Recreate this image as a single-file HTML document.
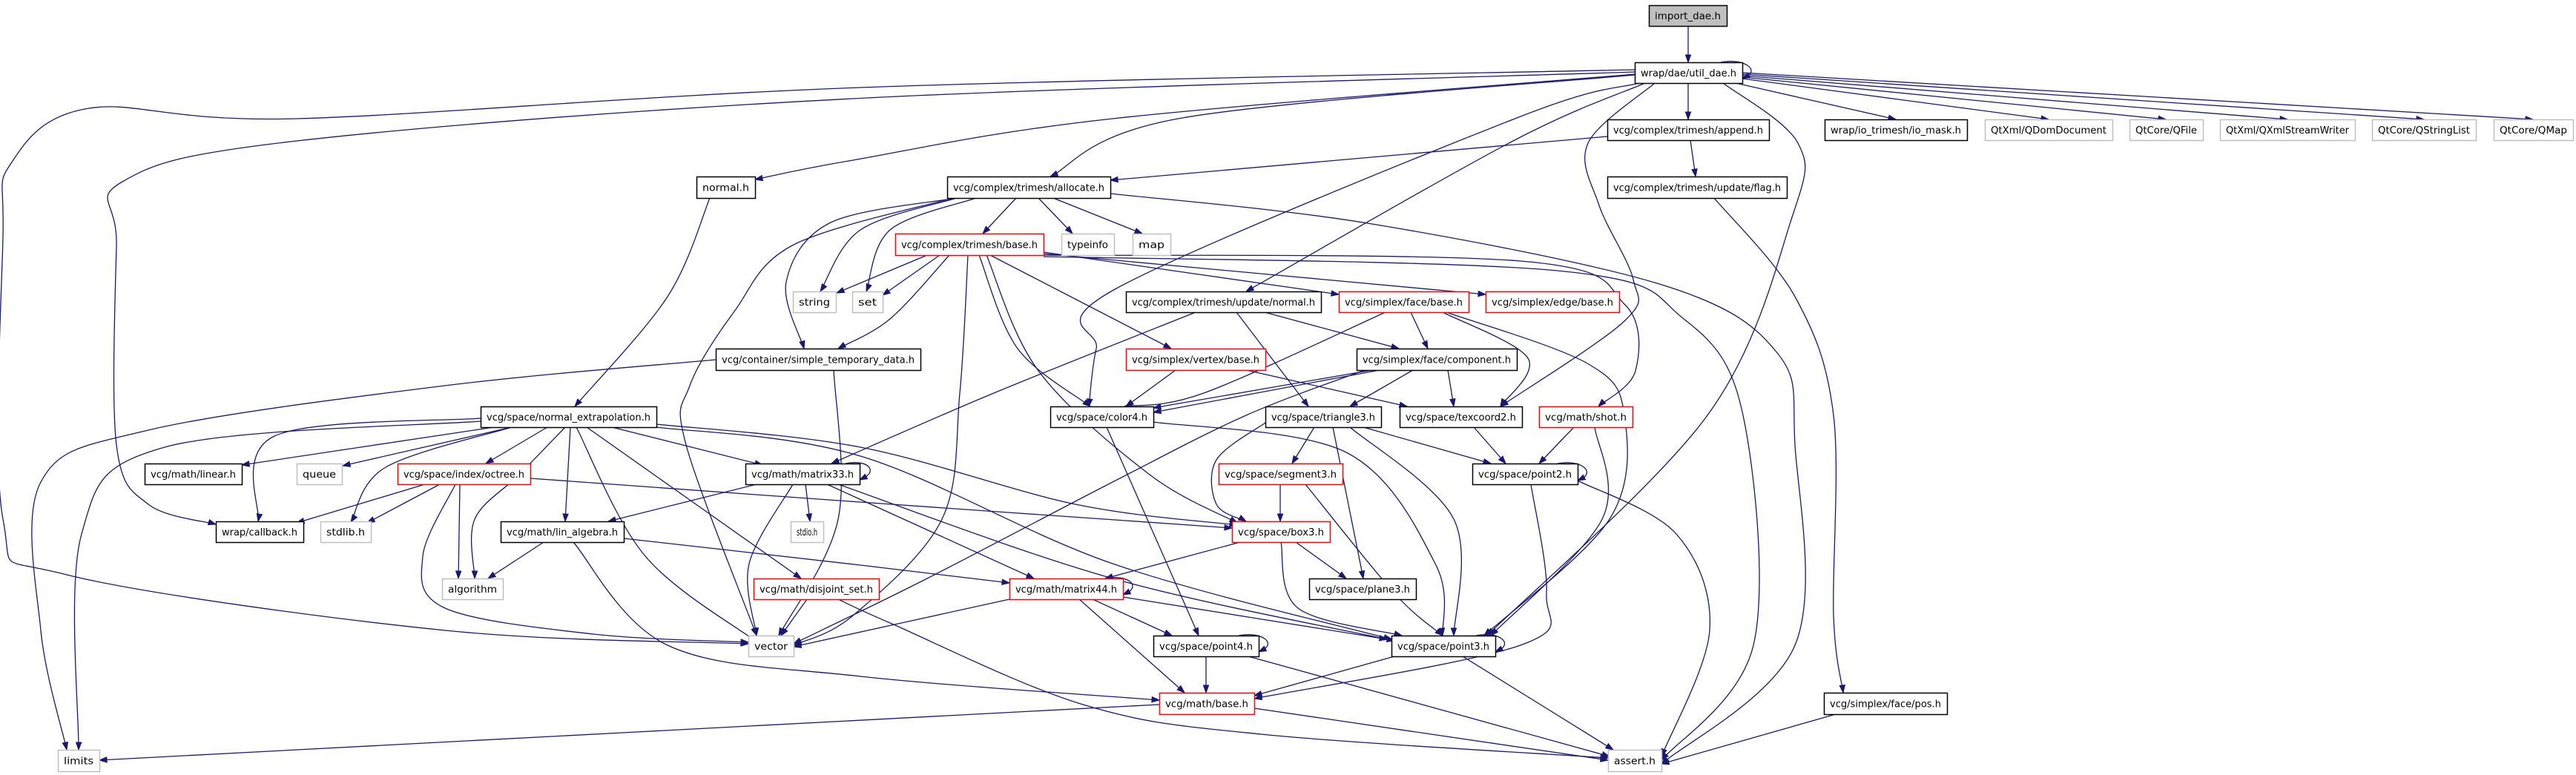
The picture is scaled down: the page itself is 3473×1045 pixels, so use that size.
<!DOCTYPE html>
<html><head><meta charset="utf-8"><style>
html,body{margin:0;padding:0;background:#fff;}
svg{display:block;}
text{font-family:"DejaVu Sans","Liberation Sans",sans-serif;font-size:13px;fill:#000;}
</style></head><body>
<svg id="g" width="3473" height="1045" viewBox="0 0 3473 1045" xmlns="http://www.w3.org/2000/svg">
<g id="edges" fill="none" stroke="#191970" stroke-width="1.3"></g>
<g id="arrows" fill="#191970" stroke="#191970" stroke-width="1"></g>
<g id="nodes"></g>
</svg>
<script>
var N={
imp:[2223,7,2328,35,"import_dae.h","f"],
util:[2204,84,2349,112,"wrap/dae/util_dae.h","b"],
append:[2167,161,2385,189,"vcg/complex/trimesh/append.h","b"],
flag:[2167,238,2409,267,"vcg/complex/trimesh/update/flag.h","b"],
iomask:[2460,161,2652,189,"wrap/io_trimesh/io_mask.h","b"],
qdom:[2676,161,2848,189,"QtXml/QDomDocument","g"],
qfile:[2871,161,2970,189,"QtCore/QFile","g"],
qxml:[2993,161,3175,189,"QtXml/QXmlStreamWriter","g"],
qsl:[3198,161,3338,189,"QtCore/QStringList","g"],
qmap:[3362,161,3469,189,"QtCore/QMap","g"],
normal:[939,238,1018,267,"normal.h","b"],
alloc:[1277,238,1497,267,"vcg/complex/trimesh/allocate.h","b"],
tbase:[1207,315,1407,344,"vcg/complex/trimesh/base.h","r"],
typeinfo:[1431,315,1502,344,"typeinfo","g"],
map:[1527,315,1578,344,"map","g"],
string:[1069,393,1127,421,"string","g"],
set:[1149,393,1190,421,"set","g"],
unormal:[1518,393,1781,421,"vcg/complex/trimesh/update/normal.h","b"],
fbase:[1805,393,1980,421,"vcg/simplex/face/base.h","r"],
ebase:[2003,393,2183,421,"vcg/simplex/edge/base.h","r"],
simple:[965,470,1241,499,"vcg/container/simple_temporary_data.h","b"],
vbase:[1518,470,1706,499,"vcg/simplex/vertex/base.h","r"],
fcomp:[1829,470,2045,499,"vcg/simplex/face/component.h","b"],
nextra:[648,548,885,576,"vcg/space/normal_extrapolation.h","b"],
color4:[1416,548,1555,576,"vcg/space/color4.h","b"],
tri3:[1706,548,1862,576,"vcg/space/triangle3.h","b"],
tex2:[1887,548,2052,576,"vcg/space/texcoord2.h","b"],
shot:[2075,548,2201,576,"vcg/math/shot.h","r"],
linear:[195,625,326,653,"vcg/math/linear.h","b"],
queue:[400,625,461,653,"queue","g"],
octree:[536,625,715,653,"vcg/space/index/octree.h","r"],
m33:[1005,625,1159,653,"vcg/math/matrix33.h","b"],
seg3:[1643,625,1810,653,"vcg/space/segment3.h","r"],
p2:[1985,625,2127,653,"vcg/space/point2.h","b"],
callback:[291,703,409,731,"wrap/callback.h","b"],
stdlib:[432,703,500,731,"stdlib.h","g"],
linalg:[675,703,841,731,"vcg/math/lin_algebra.h","b"],
stdio:[1066,703,1110,731,"stdio.h","g"],
box3:[1661,703,1793,731,"vcg/space/box3.h","r"],
algorithm:[596,780,678,808,"algorithm","g"],
disj:[1016,780,1185,808,"vcg/math/disjoint_set.h","r"],
m44:[1361,780,1514,808,"vcg/math/matrix44.h","r"],
plane3:[1765,780,1909,808,"vcg/space/plane3.h","b"],
vector:[1009,857,1070,885,"vector","g"],
p4:[1555,857,1697,885,"vcg/space/point4.h","b"],
p3:[1876,857,2016,885,"vcg/space/point3.h","b"],
mbase:[1563,934,1691,963,"vcg/math/base.h","r"],
pos:[2459,934,2625,963,"vcg/simplex/face/pos.h","b"],
limits:[78,1011,134,1040,"limits","g"],
assert:[2168,1011,2240,1040,"assert.h","g"]
};
var E=[
[[2276,35],[2276,84]],
[[2276,112],[2276,161]],
[[2340,112],[2556,161]],
[[2349,106],[2762,161]],
[[2349,104],[2920,161]],
[[2349,102],[3084,161]],
[[2349,100],[3268,161]],
[[2349,98],[3415,161]],
[[2204,101],[1594,159],[1416,238]],
[[2204,100],[1500,160],[1150,216],[1018,242]],
[[2204,97],[1150,133],[400,190],[165,245],[157,330],[157,600],[200,680],[291,707]],
[[2204,94],[1160,118],[400,160],[120,146],[15,220],[4,320],[4,700],[90,775],[600,850],[1009,868]],
[[2210,112],[2045,159],[1505,389],[1478,470],[1468,548]],
[[2218,112],[2040,190],[1680,393]],
[[2231,112],[2141,193],[2156,277],[2202,377],[2190,433],[2023,548]],
[[2323,112],[2424,193],[2416,293],[2302,560],[2005,857]],
[[2167,184],[1497,243]],
[[2279,189],[2286,238]],
[[2311,267],[2420,400],[2472,560],[2472,830],[2485,934]],
[[2475,963],[2240,1030]],
[[957,267],[900,400],[775,548]],
[[1370,267],[1325,315]],
[[1400,267],[1446,315]],
[[1420,267],[1540,315]],
[[1290,267],[1160,310],[1106,393]],
[[1316,267],[1200,310],[1168,393]],
[[1290,267],[1120,300],[1060,380],[1084,470]],
[[1285,267],[1070,330],[990,420],[930,520],[925,600],[1020,857]],
[[1497,261],[1850,302],[2247,386],[2397,477],[2420,600],[2420,870],[2240,1030]],
[[1250,344],[1128,395]],
[[1267,344],[1190,398]],
[[1280,344],[1200,430],[1130,470]],
[[1305,344],[1294,530],[1270,700],[1150,830],[1070,870]],
[[1320,344],[1372,470],[1470,548]],
[[1330,344],[1400,500],[1550,640],[1668,705]],
[[1335,344],[1579,470]],
[[1407,340],[1805,397]],
[[1407,342],[2003,397]],
[[1407,344],[2050,352],[2190,410],[2205,500],[2155,548]],
[[1407,346],[2100,365],[2270,430],[2350,560],[2364,870],[2240,1025]],
[[1612,421],[1340,530],[1121,625]],
[[1667,421],[1764,548]],
[[1705,421],[1886,470]],
[[1902,421],[1925,470]],
[[1868,421],[1623,530],[1516,548]],
[[1945,421],[2060,483],[2023,548]],
[[1950,421],[2140,490],[2190,560],[2170,700],[2001,857]],
[[1585,499],[1518,548]],
[[1680,499],[1897,548]],
[[1850,499],[1555,550]],
[[1860,499],[1555,556]],
[[1840,499],[1680,560],[1500,650],[1250,780],[1070,868]],
[[1905,499],[1820,548]],
[[1952,499],[1960,548]],
[[1772,576],[1742,625]],
[[1706,570],[1640,620],[1640,680],[1680,703]],
[[1797,576],[1838,780]],
[[1820,576],[1960,700],[1960,857]],
[[1838,576],[2010,625]],
[[1987,576],[2030,625]],
[[2122,576],[2075,625]],
[[2150,576],[2160,700],[2010,857]],
[[2064,653],[2085,800],[2050,870],[1691,942]],
[[2127,648],[2260,720],[2305,850],[2240,1020]],
[[1726,653],[1726,703]],
[[1760,653],[1880,800],[1945,857]],
[[1672,731],[1490,780]],
[[1747,731],[1815,780]],
[[1727,731],[1750,820],[1890,857]],
[[1361,808],[1070,872]],
[[1473,808],[1580,857]],
[[1455,808],[1597,934]],
[[1514,805],[1870,862]],
[[1626,885],[1626,934]],
[[1683,885],[2170,1020]],
[[1880,885],[1691,938]],
[[1972,885],[2175,1011]],
[[1563,950],[134,1025]],
[[1691,955],[2168,1025]],
[[1492,576],[1616,857]],
[[1555,569],[1815,610],[1935,760],[1945,857]],
[[965,485],[600,520],[200,580],[55,650],[55,850],[90,1011]],
[[1124,499],[1130,700],[1050,857]],
[[648,564],[370,588],[348,703]],
[[648,568],[222,603],[110,720],[106,1011]],
[[666,576],[326,627]],
[[690,576],[462,628]],
[[690,576],[520,630],[473,704]],
[[738,576],[655,625]],
[[762,576],[700,640],[640,700],[640,780]],
[[769,576],[762,703]],
[[777,576],[870,750],[1021,866]],
[[791,576],[1080,780]],
[[825,576],[1028,627]],
[[885,572],[1160,603],[1450,680],[1668,708]],
[[885,576],[1160,615],[1500,760],[1876,862]],
[[573,653],[400,705]],
[[593,653],[495,705]],
[[620,653],[618,780]],
[[614,653],[570,750],[600,820],[800,855],[1009,866]],
[[715,645],[1160,677],[1661,712]],
[[1020,653],[820,703]],
[[1086,653],[1092,703]],
[[1069,653],[1010,760],[1020,857]],
[[1115,653],[1394,780]],
[[1130,653],[1500,780],[1880,864]],
[[733,731],[658,780]],
[[841,726],[1160,762],[1361,786]],
[[773,731],[900,870],[1160,912],[1563,944]],
[[1088,808],[1053,857]],
[[1130,808],[1200,840],[1460,950],[1700,990],[2168,1022]]
];
var loops=[[2320,84,2349,106],[2100,625,2127,648],[1490,780,1514,802],[1140,625,1159,647],[1670,857,1697,879],[1990,857,2016,879]];
var ns="http://www.w3.org/2000/svg";
function el(t,a,p){var e=document.createElementNS(ns,t);for(var k in a)e.setAttribute(k,a[k]);p.appendChild(e);return e;}
var ge=document.getElementById("edges"),ga=document.getElementById("arrows"),gn=document.getElementById("nodes");
function arrow(tip,from){var dx=tip[0]-from[0],dy=tip[1]-from[1],l=Math.hypot(dx,dy)||1;dx/=l;dy/=l;
var L=10,W=3.6,bx=tip[0]-dx*L,by=tip[1]-dy*L;
el("polygon",{points:tip[0]+","+tip[1]+" "+(bx-dy*W)+","+(by+dx*W)+" "+(bx+dy*W)+","+(by-dx*W)},ga);}
E.forEach(function(p){var d="M"+p[0][0]+","+p[0][1];var lastc=p[0];
for(var i=0;i<p.length-1;i++){var p0=p[i-1]||p[i],p1=p[i],p2=p[i+1],p3=p[i+2]||p2;
var c1=[p1[0]+(p2[0]-p0[0])/6,p1[1]+(p2[1]-p0[1])/6],c2=[p2[0]-(p3[0]-p1[0])/6,p2[1]-(p3[1]-p1[1])/6];
d+=" C"+c1[0]+","+c1[1]+" "+c2[0]+","+c2[1]+" "+p2[0]+","+p2[1];lastc=c2;}
el("path",{d:d},ge);var t=p[p.length-1];if(lastc[0]==t[0]&&lastc[1]==t[1])lastc=p[p.length-2];arrow(t,lastc);});
loops.forEach(function(l){var x1=l[0],y1=l[1],x2=l[2],y2=l[3];
el("path",{d:"M"+x1+","+y1+" C"+(x1+30)+","+(y1-6)+" "+(x2+26)+","+(y2-12)+" "+(x2+3)+","+(y2-1)},ge);arrow([x2,y2],[x2+12,y2-6]);});
for(var k in N){var n=N[k],w=n[2]-n[0],h=n[3]-n[1];
var st=n[5]=="r"?"#ff0000":(n[5]=="g"?"#bfbfbf":"#000"),fill=n[5]=="f"?"#bfbfbf":"#fff";
el("rect",{x:n[0]+.5,y:n[1]+.5,width:w,height:h,fill:fill,stroke:st,"stroke-width":1.5},gn);
var t=el("text",{x:n[0]+w/2,y:n[1]+h/2+5,"text-anchor":"middle",textLength:w-16,lengthAdjust:"spacingAndGlyphs"},gn);t.textContent=n[4];}
</script>
</body></html>
